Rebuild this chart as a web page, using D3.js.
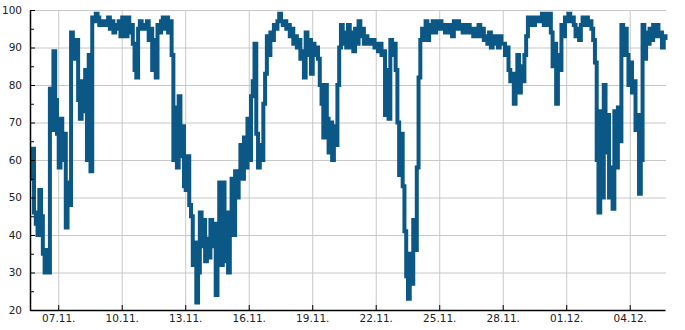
<!DOCTYPE html>
<html>
<head>
<meta charset="utf-8">
<script src="https://cdn.jsdelivr.net/npm/d3@7"></script>
<style>
body { margin: 0; background: #fff; }
svg text { font-family: "DejaVu Sans", sans-serif; font-size: 10.5px; fill: #222; }
.grid line { stroke: #c8c8c8; stroke-width: 1; }
.axis path, .axis line { stroke: #000; }
</style>
</head>
<body>
<svg id="chart" width="685" height="330"></svg>
<script>
// series starts 05.11. 16:00, one reading every 2 hours
var startTime = "2015-11-05T16:00";
var stepHours = 2;

var yTicks = [20, 30, 40, 50, 60, 70, 80, 90, 100];
var yMinorTicks = [25, 35, 45, 55, 65, 75, 85, 95];
var xTickDays = ["2015-11-07", "2015-11-10", "2015-11-13", "2015-11-16", "2015-11-19",
                 "2015-11-22", "2015-11-25", "2015-11-28", "2015-12-01", "2015-12-04"];

var values = [
    55, 63, 46, 43,                                   // 05.11.
    40, 52, 45, 35, 30, 36, 30, 79, 68, 89, 76, 67,   // 06.11.
    58, 71, 60, 67, 42, 54, 48, 94, 92, 87, 92, 76,   // 07.11.
    71, 81, 73, 84, 60, 88, 57, 98, 97, 99, 98, 96,   // 08.11.
    97, 96, 97, 96, 98, 95, 97, 94, 96, 95, 97, 93,   // 09.11.
    98, 96, 93, 98, 94, 96, 91, 84, 82, 95, 97, 95,   // 10.11.
    96, 95, 97, 92, 95, 84, 92, 82, 96, 94, 97, 98,   // 11.11.
    95, 98, 94, 97, 88, 60, 74, 58, 77, 61, 69, 53,   // 12.11.
    52, 61, 48, 45, 32, 38, 22, 30, 46, 37, 44, 33,   // 13.11.
    39, 34, 44, 37, 43, 24, 39, 54, 32, 54, 33, 46,   // 14.11.
    30, 42, 55, 40, 57, 50, 57, 64, 55, 66, 58, 71,   // 15.11.
    60, 77, 81, 91, 67, 58, 64, 60, 75, 83, 93, 88,   // 16.11.
    94, 92, 96, 95, 97, 99, 97, 96, 97, 95, 96, 93,   // 17.11.
    95, 91, 93, 90, 92, 87, 89, 82, 94, 88, 92, 83,   // 18.11.
    91, 88, 90, 87, 80, 75, 66, 80, 71, 62, 70, 60,   // 19.11.
    69, 64, 80, 90, 96, 91, 94, 90, 96, 90, 94, 89,   // 20.11.
    95, 91, 97, 93, 95, 91, 93, 91, 92, 91, 92, 90,   // 21.11.
    91, 89, 91, 88, 89, 72, 84, 71, 92, 88, 91, 84,   // 22.11.
    70, 56, 67, 53, 41, 29, 23, 35, 27, 44, 36, 58,   // 23.11.
    82, 92, 95, 92, 97, 92, 96, 94, 97, 94, 97, 95,   // 24.11.
    97, 95, 96, 94, 96, 94, 96, 93, 97, 95, 97, 95,   // 25.11.
    96, 94, 96, 94, 96, 94, 95, 93, 95, 93, 96, 93,   // 26.11.
    95, 92, 93, 91, 94, 90, 93, 91, 93, 90, 93, 91,   // 27.11.
    91, 88, 90, 84, 81, 83, 75, 80, 88, 78, 85, 81,   // 28.11.
    88, 93, 98, 96, 98, 96, 98, 97, 98, 97, 99, 96,   // 29.11.
    99, 96, 99, 94, 85, 91, 75, 88, 84, 96, 93, 98,   // 30.11.
    97, 99, 97, 98, 96, 93, 95, 92, 96, 98, 96, 98,   // 01.12.
    96, 97, 95, 92, 86, 60, 46, 73, 50, 80, 62, 72,   // 02.12.
    50, 58, 47, 73, 58, 74, 65, 96, 88, 95, 88, 80,   // 03.12.
    86, 78, 81, 68, 72, 51, 60, 96, 87, 94, 91, 95,   // 04.12.
    92, 96, 93, 96, 93, 94, 90, 93, 92                // 05.12.
];

var parseTime = d3.timeParse("%Y-%m-%dT%H:%M");
var parseDay = d3.timeParse("%Y-%m-%d");
var t0 = parseTime(startTime);

var data = values.map(function (v, i) {
    return { date: d3.timeHour.offset(t0, i * stepHours), value: v };
});

var svg = d3.select("#chart");
// plot box (note: "top" is taken by window.top)
var plotLeft = 30, plotRight = 665, plotTop = 10, plotBottom = 310;

var x = d3.scaleTime()
    .domain(d3.extent(data, function (d) { return d.date; }))
    .range([plotLeft, plotRight]);
var y = d3.scaleLinear().domain([20, 100]).range([plotBottom, plotTop]);

var xTicks = xTickDays.map(parseDay);

// grid
var grid = svg.append("g").attr("class", "grid");
grid.selectAll("line.h")
    .data(yTicks.filter(function (d) { return d > 20; }))
    .enter().append("line")
    .attr("class", "h")
    .attr("x1", plotLeft).attr("x2", plotRight + 1)
    .attr("y1", function (d) { return y(d) + 0.5; })
    .attr("y2", function (d) { return y(d) + 0.5; });
grid.selectAll("line.v")
    .data(xTicks)
    .enter().append("line")
    .attr("class", "v")
    .attr("y1", plotTop).attr("y2", plotBottom)
    .attr("x1", function (d) { return x(d) + 0.5; })
    .attr("x2", function (d) { return x(d) + 0.5; });

// series
var line = d3.line()
    .curve(d3.curveStepAfter)
    .x(function (d) { return x(d.date) + 0.5; })
    .y(function (d) { return y(d.value); });

svg.append("path")
    .datum(data)
    .attr("fill", "none")
    .attr("stroke", "#0b5786")
    .attr("stroke-width", 4)
    .attr("stroke-linejoin", "miter")
    .attr("d", line);

// axes
svg.append("g")
    .attr("class", "axis")
    .attr("transform", "translate(" + plotLeft + ",0)")
    .call(d3.axisLeft(y).tickValues(yTicks).tickSize(-5).tickSizeOuter(0).tickPadding(8))
    .select(".domain").attr("stroke-width", 1.5);

svg.append("g")
    .attr("class", "axis")
    .attr("transform", "translate(" + plotLeft + ",0)")
    .call(d3.axisLeft(y).tickValues(yMinorTicks).tickSize(-4).tickFormat(""))
    .select(".domain").remove();

svg.append("g")
    .attr("class", "axis")
    .attr("transform", "translate(0," + plotBottom + ")")
    .call(d3.axisBottom(x).tickValues(xTicks).tickSize(-5).tickSizeOuter(0).tickPadding(5)
        .tickFormat(d3.timeFormat("%d.%m.")))
    .select(".domain").attr("stroke-width", 1.5);

svg.selectAll(".axis text").attr("fill", "#222");
</script>
</body>
</html>
